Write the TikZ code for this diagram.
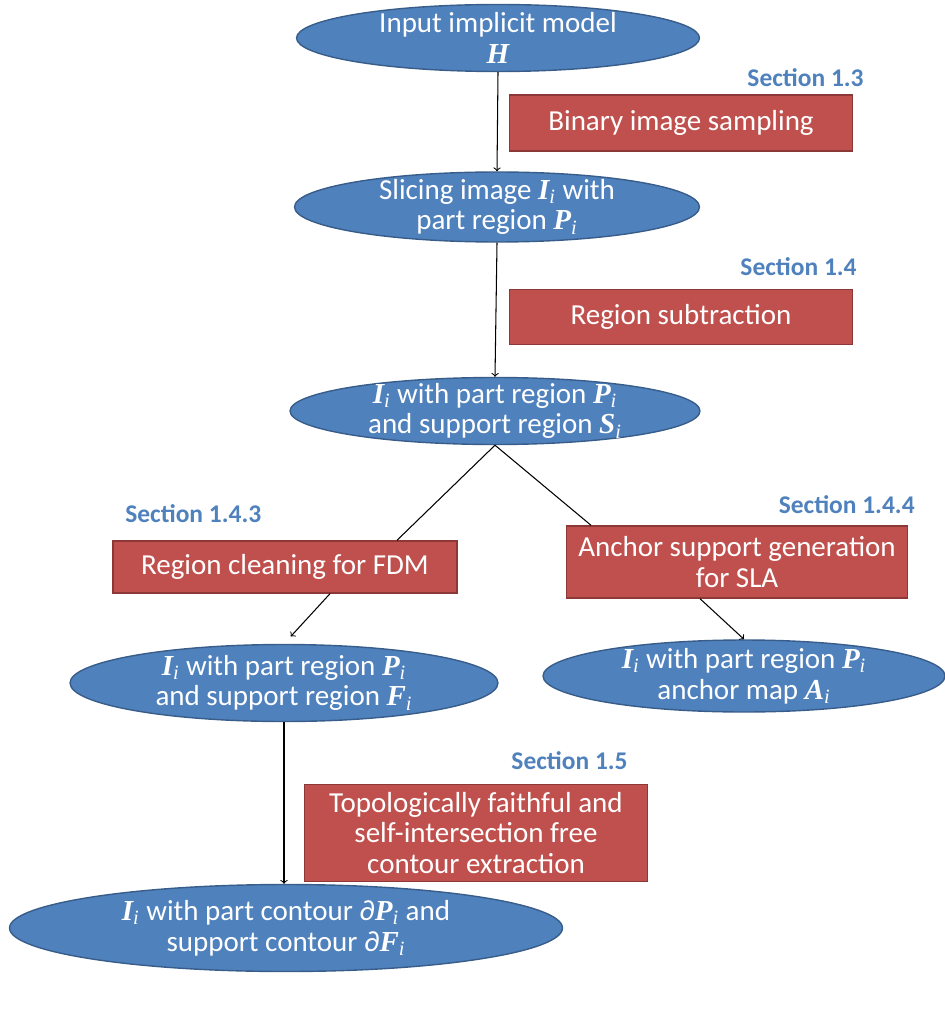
\documentclass[tikz,border=0pt]{standalone}
\usepackage{fontspec}
\setmainfont{Carlito}
\newfontfamily\tnr{Liberation Serif}
\usepackage{xcolor}
\usepackage{tikz}
\usetikzlibrary{positioning, shapes.geometric}

\definecolor{ovalblue}{HTML}{4F81BD}
\definecolor{ovalline}{HTML}{385D8A}
\definecolor{boxred}{HTML}{C0504D}
\definecolor{boxline}{HTML}{8C3836}
\newcommand{\sym}[2]{{\tnr\bfseries\itshape #1\textsubscript{\mdseries #2}}}

\begin{document}
\begin{tikzpicture}[
        x=0.02cm, y=-0.02cm,
        every node/.style={font=\fontsize{16.5}{17.5}\selectfont, text=white, align=center},
        oval/.style={ellipse, draw=ovalline, fill=ovalblue, line width=0.8pt, inner xsep=0pt, inner ysep=-13pt},
        task/.style={rectangle, draw=boxline, fill=boxred, line width=0.8pt, inner sep=0pt},
        sec/.style={font=\fontsize{14.5}{16}\selectfont\bfseries, text=ovalblue, inner sep=0pt},
        arrow/.style={->, line width=0.6pt},
        link/.style={line width=0.6pt}
    ]
    \useasboundingbox (0,0) rectangle (945,1033);

    % Nodes
    \node[oval, minimum width=8.06cm, minimum height=1.34cm] (input) at (498,38) {Input implicit model\\{\tnr\bfseries\itshape H}};
    \node[sec, anchor=east] (sec13) at (864,78) {Section 1.3};
    \node[task, minimum width=6.86cm, minimum height=1.12cm] (binary) at (681,123) {Binary image sampling};
    \node[oval, minimum width=8.1cm, minimum height=1.4cm] (slice) at (497,207) {Slicing image \sym{I}{i} with\\part region \sym{P}{i}};
    \node[sec, anchor=east] (sec14) at (857,267) {Section 1.4};
    \node[task, minimum width=6.86cm, minimum height=1.1cm] (subtract) at (681,317) {Region subtraction};
    \node[oval, minimum width=8.2cm, minimum height=1.34cm] (support) at (495,411) {\sym{I}{i} with part region \sym{P}{i}\\and support region \sym{S}{i}};
    \node[sec, anchor=west] (sec143) at (125,514) {Section 1.4.3};
    \node[task, minimum width=6.88cm, minimum height=1.04cm] (clean) at (285,567) {Region cleaning for FDM};
    \node[sec, anchor=east] (sec144) at (915,505) {Section 1.4.4};
    \node[task, minimum width=6.82cm, minimum height=1.44cm] (anchorgen) at (737,562) {Anchor support generation\\for SLA};
    \node[oval, minimum width=8.56cm, minimum height=1.54cm] (fdm) at (284,683) {\sym{I}{i} with part region \sym{P}{i}\\and support region \sym{F}{i}};
    \node[oval, minimum width=8.04cm, minimum height=1.44cm] (sla) at (744,676) {\sym{I}{i} with part region \sym{P}{i}\\anchor map \sym{A}{i}};
    \node[sec, anchor=east] (sec15) at (628,761) {Section 1.5};
    \node[task, minimum width=6.86cm, minimum height=1.94cm] (contour) at (476,833) {Topologically faithful and\\self-intersection free\\contour extraction};
    \node[oval, minimum width=11.06cm, minimum height=1.74cm] (final) at (286,928) {\sym{I}{i} with part contour ∂\sym{P}{i} and\\support contour ∂\sym{F}{i}};

    % Arrows
    \draw[arrow] (input.south) -- (slice.north);
    \draw[arrow] (slice.south) -- (support.north);
    \draw[link] (support.south) -- ([xshift=2.24cm]clean.north);
    \draw[link] (support.south) -- ([xshift=-2.92cm]anchorgen.north);
    \draw[arrow, shorten >=0.2cm] ([xshift=0.9cm]clean.south) -- (fdm.north);
    \draw[arrow] ([xshift=-0.74cm]anchorgen.south) -- (sla.north);
    \draw[arrow] (fdm.south) -- (fdm.south |- final.north);

\end{tikzpicture}
\end{document}
